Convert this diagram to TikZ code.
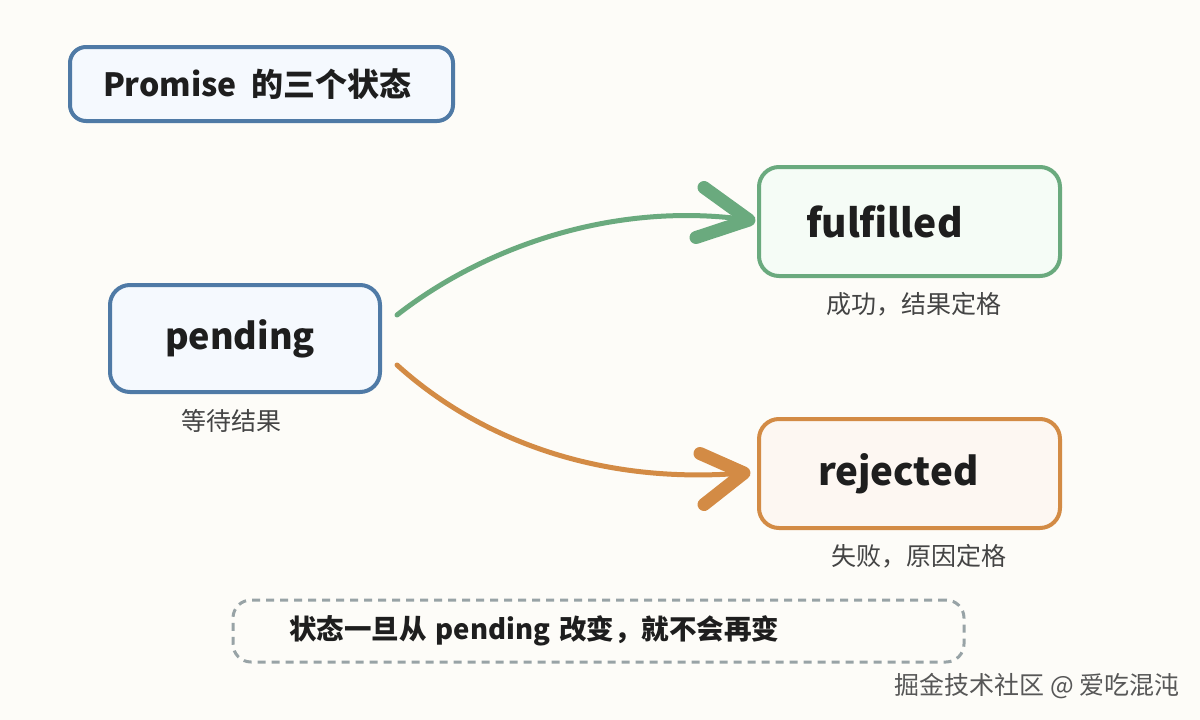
\documentclass[tikz,border=0pt]{standalone}
\usepackage{fontspec}
\setmainfont{Noto Sans CJK SC}
\usetikzlibrary{calc}
\definecolor{bg}{HTML}{FDFCF8}
\definecolor{bluec}{HTML}{4F7AA6}
\definecolor{bluef}{HTML}{F5F9FE}
\definecolor{greenc}{HTML}{6AAA7E}
\definecolor{greenf}{HTML}{F5FCF6}
\definecolor{orangec}{HTML}{D38B45}
\definecolor{orangef}{HTML}{FDF7F2}
\definecolor{grayd}{HTML}{98A3A6}
\definecolor{txt}{HTML}{1E1E1E}
\definecolor{lbl}{HTML}{444444}
\begin{document}
\begin{tikzpicture}[x=1pt,y=-1pt,
  box/.style={rectangle, rounded corners=20pt, line width=4pt, align=left,
    inner ysep=0pt, text=txt, font=\fontsize{36}{40}\selectfont\bfseries},
  lbltext/.style={text=lbl, font=\fontsize{25}{28}\selectfont, inner sep=0pt},
  curve/.style={line width=5pt, line cap=round},
  headst/.style={line width=13pt, line cap=round, line join=round}]
\useasboundingbox (0,0) rectangle (1200,720);
\fill[bg] (0,0) rectangle (1200,720);

\node[box, draw=bluec, fill=bluef, rounded corners=16pt, minimum width=383pt, minimum height=74pt,
  inner xsep=33pt, text width=317pt, font=\fontsize{32}{36}\selectfont\bfseries]
  (title) at (261.5,84) {Promise\hspace{0.45em}的三个状态};

\node[box, draw=bluec, fill=bluef, minimum width=270pt, minimum height=107pt,
  inner xsep=55pt, text width=160pt] (pending) at (245,338.5) {pending};
\node[box, draw=greenc, fill=greenf, minimum width=301pt, minimum height=109pt,
  inner xsep=47pt, text width=207pt, font=\fontsize{39}{42}\selectfont\bfseries] (fulfilled) at (909.5,221.5) {fulfilled};
\node[box, draw=orangec, fill=orangef, minimum width=301pt, minimum height=109pt,
  inner xsep=59pt, text width=183pt, font=\fontsize{38.5}{42}\selectfont\bfseries] (rejected) at (909.5,473.5) {rejected};

\node[lbltext] (lp) at (231,421) {等待结果};
\node[lbltext] (lf) at (914,304) {成功，结果定格};
\node[lbltext] (lr) at (919,556) {失败，原因定格};

\node[rectangle, draw=grayd, line width=3pt, dash pattern=on 8pt off 6pt, rounded corners=18pt,
  minimum width=731pt, minimum height=62pt, inner xsep=56pt, text width=619pt, align=left,
  text=txt, font=\fontsize{27.5}{30}\selectfont\bfseries]
  (note) at (598.5,631) {状态一旦从 pending 改变，就不会再变};

\node[anchor=east, text=lbl!90, font=\fontsize{25}{28}\selectfont, inner sep=0pt]
  (wm) at (1180,686) {掘金技术社区 @ 爱吃混沌};

% green connector
\coordinate (gs) at ([shift={(15,-23.5)}]pending.east);
\coordinate (gt) at ([shift={(-8,-1.5)}]fulfilled.west);
\draw[curve, greenc] (gs) .. controls (480,250) and (610,200) .. (gt);
\draw[headst, greenc] ([shift={(-53,-34)}]fulfilled.west) -- (gt) -- ([shift={(-61,16)}]fulfilled.west);

% orange connector
\coordinate (os) at ([shift={(15,26.5)}]pending.east);
\coordinate (ot) at ([shift={(-13,-0.5)}]rejected.west);
\draw[curve, orangec] (os) .. controls (480,440) and (600,485) .. (ot);
\draw[headst, orangec] ([shift={(-57,-20)}]rejected.west) -- (ot) -- ([shift={(-53,31)}]rejected.west);
\end{tikzpicture}
\end{document}
